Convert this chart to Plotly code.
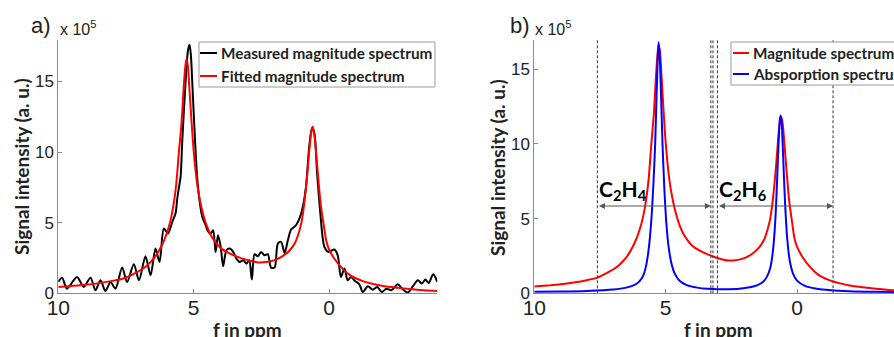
import plotly.graph_objects as go

# ---------------- data (values in units of 10^5) ----------------
x_ticks = [10, 5, 0]
y_ticks = [0, 5, 10, 15]

meas_ppm = [10.0, 9.86, 9.68, 9.31, 9.06, 8.81, 8.63, 8.44, 8.26, 8.07,
            7.89, 7.64, 7.46, 7.21, 7.02, 6.78, 6.59, 6.41, 6.26, 6.1,
            5.95, 5.79, 5.67, 5.6, 5.54, 5.48, 5.42, 5.3, 5.21, 5.15,
            5.1, 5.05, 4.95, 4.84, 4.68, 4.55, 4.49, 4.37, 4.28, 4.19,
            4.1, 4.0, 3.91, 3.79, 3.67, 3.54, 3.42, 3.3, 3.17, 3.05,
            2.95, 2.85, 2.75, 2.63, 2.51, 2.38, 2.26, 2.14, 2.01, 1.89,
            1.77, 1.64, 1.52, 1.4, 1.22, 1.07, 0.95, 0.85, 0.73, 0.63,
            0.54, 0.44, 0.32, 0.17, 0.02, -0.2, -0.32, -0.44, -0.57, -0.69,
            -0.81, -0.96, -1.12, -1.25, -1.43, -1.62, -1.78, -1.95, -2.12, -2.3,
            -2.54, -2.7, -2.91, -3.1, -3.28, -3.43, -3.56, -3.68, -3.85, -4.0]
meas_vals = [0.8, 1.11, 0.33, 1.16, 0.45, 1.11, 0.21, 0.92, 0.17, 0.8,
             0.33, 1.82, 0.8, 2.06, 0.92, 2.62, 1.28, 3.17, 2.22, 4.59,
             4.23, 5.06, 5.65, 6.8, 7.54, 8.3, 10.85, 14.9, 17.2, 17.6,
             16.8, 14.9, 10.85, 7.54, 5.41, 4.8, 4.47, 4.23, 4.47, 2.93,
             4.11, 3.29, 1.91, 3.05, 3.17, 2.93, 2.46, 2.22, 2.34, 2.1,
             2.34, 0.97, 2.77, 2.62, 2.93, 2.7, 2.77, 1.82, 1.82, 3.52,
             3.64, 2.86, 3.76, 4.52, 4.82, 5.41, 6.3, 7.54, 10.4, 11.7,
             11.3, 8.5, 5.65, 3.29, 2.93, 3.1, 2.7, 1.16, 1.75, 0.92,
             1.16, 0.87, 0.64, 0.09, 0.5, 0.26, 0.45, 0.09, 0.33, 0.21,
             0.64, 0.33, 0.05, 0.5, 0.92, 0.69, 0.97, 0.73, 1.35, 0.8]

fit_ppm = [10.0, 9.5, 9.0, 8.5, 8.0, 7.6, 7.2, 6.8, 6.5, 6.2,
           6.0, 5.85, 5.75, 5.65, 5.55, 5.45, 5.38, 5.32, 5.27, 5.22,
           5.16, 5.08, 5.0, 4.9, 4.8, 4.65, 4.5, 4.3, 4.0, 3.7,
           3.4, 3.1, 2.8, 2.6, 2.3, 2.0, 1.7, 1.45, 1.25, 1.1,
           1.0, 0.9, 0.8, 0.72, 0.65, 0.6, 0.55, 0.48, 0.4, 0.3,
           0.2, 0.1, 0.0, -0.2, -0.5, -0.8, -1.2, -1.6, -2.0, -2.5,
           -3.0, -3.5, -4.0]
fit_vals = [0.45, 0.52, 0.6, 0.72, 0.88, 1.05, 1.4, 1.85, 2.4, 3.3,
            4.2, 5.2, 6.2, 7.6, 9.9, 12.0, 14.2, 15.8, 16.6, 16.2,
            14.6, 12.2, 10.1, 8.2, 6.9, 5.6, 4.7, 3.9, 3.2, 2.85,
            2.6, 2.4, 2.25, 2.19, 2.22, 2.35, 2.65, 3.05, 3.6, 4.4,
            5.2, 6.6, 8.5, 10.3, 11.5, 11.8, 11.4, 10.0, 8.2, 6.2,
            4.9, 3.7, 3.1, 2.45, 1.75, 1.25, 0.9, 0.68, 0.52, 0.4,
            0.3, 0.22, 0.16]

abs_ppm = [10.0, 9.0, 8.0, 7.0, 6.5, 6.2, 6.0, 5.85, 5.75, 5.65,
           5.55, 5.47, 5.4, 5.35, 5.3, 5.27, 5.23, 5.18, 5.12, 5.05,
           4.97, 4.88, 4.78, 4.65, 4.45, 4.2, 3.8, 3.4, 3.0, 2.6,
           2.2, 1.8, 1.5, 1.3, 1.15, 1.02, 0.92, 0.83, 0.76, 0.7,
           0.65, 0.62, 0.58, 0.53, 0.46, 0.38, 0.28, 0.15, 0.0, -0.3,
           -0.7, -1.3, -2.0, -3.0, -4.0]
abs_vals = [0.1, 0.12, 0.16, 0.25, 0.38, 0.55, 0.8, 1.2, 1.8, 2.9,
            4.8, 7.2, 10.0, 13.0, 15.8, 16.8, 16.0, 13.5, 10.0, 7.0,
            4.6, 3.0, 2.0, 1.3, 0.8, 0.55, 0.38, 0.3, 0.27, 0.27,
            0.3, 0.4, 0.55, 0.75, 1.1, 1.7, 2.8, 4.8, 7.5, 10.2,
            11.7, 11.9, 11.3, 9.2, 6.2, 3.8, 2.2, 1.3, 0.85, 0.5,
            0.32, 0.2, 0.14, 0.1, 0.08]

region_bounds = [7.6, 3.28, 3.2, 3.03, -1.37]
c2h4_span = [7.6, 3.28]
c2h6_span = [3.03, -1.37]
arrow_level = 5.84

# ---------------- layout helpers ----------------
W, H = 894, 337
def px(x):
    return x / W
def py(y):
    return 1 - y / H

TICK_FONT = "Liberation Sans, Arial, sans-serif"
BOLD_FONT = "Lato, 'Open Sans', sans-serif"
AXIS_GRAY = "#8a8a8a"
TXT = "#222222"

fig = go.Figure()

fig.add_trace(go.Scatter(x=meas_ppm, y=meas_vals, mode="lines",
                         line=dict(color="black", width=2, shape="spline", smoothing=0.8),
                         xaxis="x", yaxis="y", showlegend=False, hoverinfo="skip"))
fig.add_trace(go.Scatter(x=fit_ppm, y=fit_vals, mode="lines",
                         line=dict(color="#ff0000", width=2, shape="spline", smoothing=0.8),
                         xaxis="x", yaxis="y", showlegend=False, hoverinfo="skip"))
fig.add_trace(go.Scatter(x=fit_ppm, y=fit_vals, mode="lines",
                         line=dict(color="#ff0000", width=2, shape="spline", smoothing=0.8),
                         xaxis="x2", yaxis="y2", showlegend=False, hoverinfo="skip"))
fig.add_trace(go.Scatter(x=abs_ppm, y=abs_vals, mode="lines",
                         line=dict(color="#0000ff", width=2, shape="spline", smoothing=0.8),
                         xaxis="x2", yaxis="y2", showlegend=False, hoverinfo="skip"))

ydom = [py(293.3), py(40)]
common_x = dict(tickvals=x_ticks, ticks="inside", ticklen=4, tickcolor=AXIS_GRAY,
                showline=True, linecolor=AXIS_GRAY, linewidth=1, showgrid=False,
                zeroline=False, automargin=False, ticklabelstandoff=-5,
                tickfont=dict(family=TICK_FONT, size=21, color=TXT))
common_y = dict(tickvals=y_ticks, ticks="inside", ticklen=4, tickcolor=AXIS_GRAY,
                showline=True, linecolor=AXIS_GRAY, linewidth=1, showgrid=False,
                zeroline=False, automargin=False,
                tickfont=dict(family=TICK_FONT, size=17, color=TXT))

fig.update_layout(
    template="none",
    width=W, height=H,
    margin=dict(l=0, r=0, t=0, b=0, pad=0),
    paper_bgcolor="white", plot_bgcolor="white",
    showlegend=False,
    xaxis=dict(domain=[px(58.3), px(437.3)], range=[10, -4], anchor="y", **common_x),
    yaxis=dict(domain=ydom, range=[0, 17.94], anchor="x", **common_y),
    xaxis2=dict(domain=[px(534.3), 1.0], range=[10, -3.69], anchor="y2", **common_x),
    yaxis2=dict(domain=ydom, range=[0, 16.95], anchor="x2", **common_y),
)

shapes = []
annots = []

# dashed region bounds in panel b
for b in region_bounds:
    shapes.append(dict(type="line", xref="x2", yref="y2", x0=b, x1=b, y0=0, y1=16.95,
                       line=dict(color="#333333", width=1, dash="3px,2px")))

# double arrows
for span in (c2h4_span, c2h6_span):
    annots.append(dict(x=span[1], y=arrow_level, ax=span[0], ay=arrow_level,
                       xref="x2", yref="y2", axref="x2", ayref="y2",
                       text="", showarrow=True, arrowhead=2, startarrowhead=2,
                       arrowside="end+start", arrowsize=1.2, startarrowsize=1.2,
                       arrowwidth=1, arrowcolor="#555555"))
annots.append(dict(x=c2h4_span[0], y=arrow_level, xref="x2", yref="y2",
                   text="<b>C<sub>2</sub>H<sub>4</sub></b>", showarrow=False,
                   xanchor="left", yanchor="bottom", xshift=0, yshift=0,
                   font=dict(family=BOLD_FONT, size=21, color="black")))
annots.append(dict(x=c2h6_span[0], y=arrow_level, xref="x2", yref="y2",
                   text="<b>C<sub>2</sub>H<sub>6</sub></b>", showarrow=False,
                   xanchor="left", yanchor="bottom", xshift=0, yshift=0,
                   font=dict(family=BOLD_FONT, size=21, color="black")))

# panel labels, multipliers, axis titles
for lx, tx, mx, ytx, xtx in [(41, "a)", 58, 21, 247.5), (520, "b)", 533, 497, 718)]:
    annots.append(dict(x=px(lx), y=py(25), xref="paper", yref="paper", text=tx,
                       showarrow=False, xanchor="center", yanchor="middle",
                       font=dict(family=TICK_FONT, size=22, color=TXT)))
    annots.append(dict(x=px(mx), y=py(28), xref="paper", yref="paper",
                       text="x 10<sup>5</sup>", showarrow=False, xanchor="left",
                       yanchor="middle", font=dict(family=TICK_FONT, size=16, color=TXT)))
    annots.append(dict(x=px(ytx), y=py(167), xref="paper", yref="paper",
                       text="<b>Signal intensity (a. u.)</b>", textangle=-90,
                       showarrow=False, xanchor="center", yanchor="middle",
                       font=dict(family=BOLD_FONT, size=19, color=TXT)))
    annots.append(dict(x=px(xtx), y=py(329), xref="paper", yref="paper",
                       text="<b>f in ppm</b>", showarrow=False, xanchor="center",
                       yanchor="middle", font=dict(family=BOLD_FONT, size=19, color=TXT)))

# legends (drawn manually)
legends = [
    dict(box=(199, 42, 435, 87), items=[("Measured magnitude spectrum", "black", 53),
                                        ("Fitted magnitude spectrum", "#ff0000", 76)],
         lx=(200, 217), tx=219),
    dict(box=(731, 42, 930, 85), items=[("Magnitude spectrum", "#ff0000", 53),
                                        ("Absporption spectrum", "#0000ff", 74)],
         lx=(733, 749), tx=751),
]
for lg in legends:
    x0, y0, x1, y1 = lg["box"]
    shapes.append(dict(type="rect", xref="paper", yref="paper",
                       x0=px(x0), x1=px(x1), y0=py(y1), y1=py(y0),
                       line=dict(color="#9a9a9a", width=1), fillcolor="white", layer="above"))
    for label, col, yy in lg["items"]:
        shapes.append(dict(type="line", xref="paper", yref="paper",
                           x0=px(lg["lx"][0]), x1=px(lg["lx"][1]), y0=py(yy), y1=py(yy),
                           line=dict(color=col, width=2), layer="above"))
        annots.append(dict(x=px(lg["tx"]), y=py(yy), xref="paper", yref="paper",
                           text="<b>" + label + "</b>", showarrow=False,
                           xanchor="left", yanchor="middle",
                           font=dict(family=BOLD_FONT, size=15.3, color=TXT)))

fig.update_layout(shapes=shapes, annotations=annots)
fig.write_html("out.html", config={"displayModeBar": False},
               post_script="document.body.style.margin='0';document.body.style.overflow='hidden';")
